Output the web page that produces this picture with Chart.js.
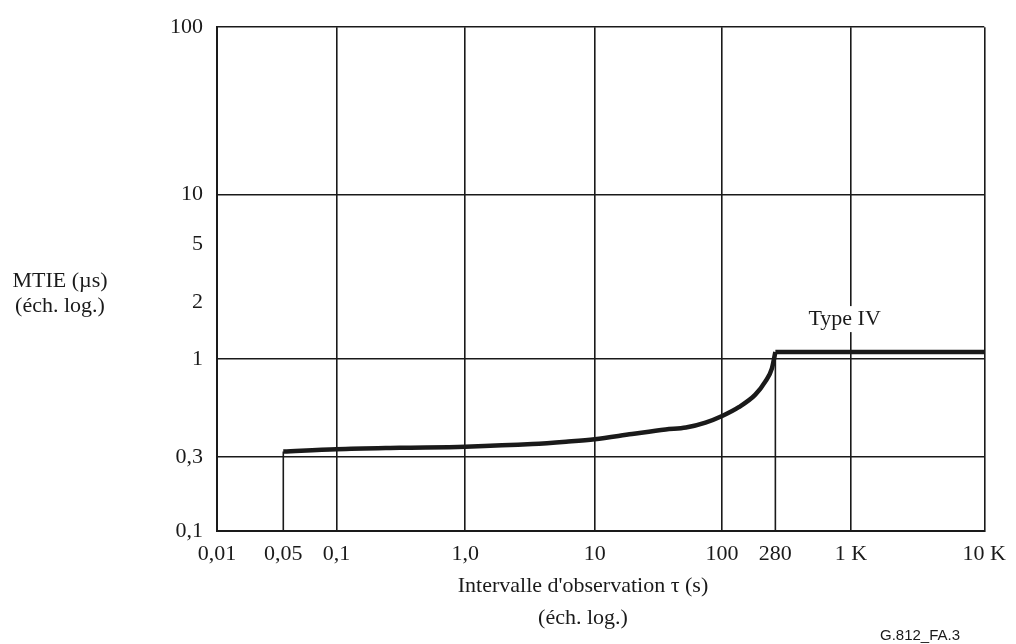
<!DOCTYPE html>
<html>
<head>
<meta charset="utf-8">
<script src="https://cdn.jsdelivr.net/npm/chart.js@4.4.1/dist/chart.umd.min.js"></script>
<style>
  html, body { margin: 0; padding: 0; background: #fff; }
  #wrap { width: 1016px; height: 644px; }
</style>
</head>
<body>
<div id="wrap"><canvas id="myChart" width="1016" height="644"></canvas></div>
<script>
// observation interval tau (s) and MTIE (us)
var tauCurve = [0.05, 0.1, 0.31, 1, 3.3, 6, 10, 19.6, 36, 52, 74, 100, 138, 190, 231, 262, 280];
var mtieCurve = [0.320, 0.329, 0.335, 0.340, 0.351, 0.361, 0.372, 0.397, 0.420, 0.430, 0.457, 0.496, 0.553, 0.645, 0.759, 0.892, 1.09];
var tauFlat = [280, 10000];
var mtieFlat = [1.09, 1.09];

// thin drop lines at 0,05 s and 280 s
var tauDrop1 = [0.05, 0.05];
var mtieDrop1 = [0.1, 0.320];
var tauDrop2 = [280, 280];
var mtieDrop2 = [0.1, 1.09];

// tick values + labels
var xTickValues = [0.01, 0.05, 0.1, 1, 10, 100, 280, 1000, 10000];
var xTickLabels = ['0,01', '0,05', '0,1', '1,0', '10', '100', '280', '1 K', '10 K'];
var yTickValues = [0.1, 0.3, 1, 2, 5, 10, 100];
var yTickLabels = ['0,1', '0,3', '1', '2', '5', '10', '100'];
var noGridX = [0.05, 280];
var noGridY = [2, 5];

var curveLabel = 'Type IV';
var curveLabelAt = [900, 1.63];

// the printed figure is not exactly logarithmic, so place the ticks where they are drawn
var xAnchorPos = [0, 0.0864, 0.1557, 0.3235, 0.4923, 0.6583, 0.7277, 0.8261, 1];
var yAnchorPos = [0, 0.1473, 0.3413, 0.4538, 0.5688, 0.668, 1];

function toPoints(xs, ys) {
    var pts = [];
    for (var i = 0; i < xs.length; i++) {
        pts.push({x: xs[i], y: ys[i]});
    }
    return pts;
}

class AnchoredLogScale extends Chart.LogarithmicScale {
    buildTicks() {
        var vals = this.options.tickValues;
        this.min = vals[0];
        this.max = vals[vals.length - 1];
        return vals.map(function (v) { return {value: v}; });
    }
    getPixelForValue(value) {
        var vals = this.options.tickValues;
        var pos = this.options.anchorPos;
        var lv = Math.log10(value);
        var i = 0;
        while (i < vals.length - 2 && lv > Math.log10(vals[i + 1])) i++;
        var l0 = Math.log10(vals[i]), l1 = Math.log10(vals[i + 1]);
        var f = pos[i] + (lv - l0) / (l1 - l0) * (pos[i + 1] - pos[i]);
        return this.getPixelForDecimal(f);
    }
    getValueForPixel(pixel) {
        var vals = this.options.tickValues;
        var pos = this.options.anchorPos;
        var f = this.getDecimalForPixel(pixel);
        var i = 0;
        while (i < pos.length - 2 && f > pos[i + 1]) i++;
        var l0 = Math.log10(vals[i]), l1 = Math.log10(vals[i + 1]);
        return Math.pow(10, l0 + (f - pos[i]) / (pos[i + 1] - pos[i]) * (l1 - l0));
    }
}
AnchoredLogScale.id = 'anchoredLog';
AnchoredLogScale.defaults = Chart.LogarithmicScale.defaults;
Chart.register(AnchoredLogScale);

var serif = "'Liberation Serif', 'Times New Roman', serif";
var ink = '#1a1a1a';

var textPlugin = {
    id: 'figureText',
    afterDraw: function (chart) {
        var ctx = chart.ctx;
        var xs = chart.scales.x, ys = chart.scales.y;
        ctx.save();
        ctx.fillStyle = ink;
        ctx.font = '22px ' + serif;
        ctx.textAlign = 'center';
        ctx.textBaseline = 'middle';
        // y axis title
        ctx.fillText('MTIE (\u00b5s)', 60, 281);
        ctx.fillText('(\u00e9ch. log.)', 60, 306);
        // x axis title
        ctx.fillText("Intervalle d'observation \u03c4 (s)", 583, 586);
        ctx.fillText('(\u00e9ch. log.)', 583, 618);
        // curve label with white box behind it
        var lx = xs.getPixelForValue(curveLabelAt[0]);
        var ly = ys.getPixelForValue(curveLabelAt[1]);
        var w = ctx.measureText(curveLabel).width;
        ctx.fillStyle = '#fff';
        ctx.fillRect(lx - w / 2 - 3, ly - 13, w + 6, 26);
        ctx.fillStyle = ink;
        ctx.fillText(curveLabel, lx, ly);
        // figure id
        ctx.font = "15px 'Liberation Sans', Arial, sans-serif";
        ctx.fillText('G.812_FA.3', 920, 636);
        ctx.restore();
    }
};

var ctx = document.getElementById('myChart').getContext('2d');
var myChart = new Chart(ctx, {
    type: 'line',
    data: {
        datasets: [
            {
                label: 'Type IV',
                data: toPoints(tauCurve, mtieCurve),
                borderColor: ink,
                borderWidth: 4.5,
                pointRadius: 0,
                cubicInterpolationMode: 'monotone',
                borderCapStyle: 'butt',
                fill: false
            },
            {
                label: 'Type IV flat',
                data: toPoints(tauFlat, mtieFlat),
                borderColor: ink,
                borderWidth: 4.5,
                pointRadius: 0,
                fill: false
            },
            {
                label: 'drop 0.05',
                data: toPoints(tauDrop1, mtieDrop1),
                borderColor: ink,
                borderWidth: 1.6,
                pointRadius: 0,
                fill: false
            },
            {
                label: 'drop 280',
                data: toPoints(tauDrop2, mtieDrop2),
                borderColor: ink,
                borderWidth: 1.6,
                pointRadius: 0,
                fill: false
            }
        ]
    },
    options: {
        responsive: false,
        animation: false,
        devicePixelRatio: 1,
        layout: {
            padding: {left: 0, right: 30, top: 22, bottom: 0}
        },
        plugins: {
            legend: {display: false},
            tooltip: {enabled: false}
        },
        scales: {
            x: {
                type: 'anchoredLog',
                tickValues: xTickValues,
                anchorPos: xAnchorPos,
                min: 0.01,
                max: 10000,
                afterFit: function (scale) { scale.height = 113; },
                border: {display: true, color: ink, width: 2},
                grid: {
                    drawTicks: false,
                    lineWidth: 1.6,
                    color: function (c) {
                        if (c.tick && noGridX.indexOf(c.tick.value) >= 0) return 'rgba(0,0,0,0)';
                        return ink;
                    }
                },
                ticks: {
                    autoSkip: false,
                    maxRotation: 0,
                    padding: 10,
                    color: ink,
                    font: {family: serif, size: 22},
                    callback: function (value, index) { return xTickLabels[index]; }
                }
            },
            y: {
                type: 'anchoredLog',
                tickValues: yTickValues,
                anchorPos: yAnchorPos,
                min: 0.1,
                max: 100,
                afterFit: function (scale) { scale.width = 217; },
                border: {display: true, color: ink, width: 2},
                grid: {
                    drawTicks: false,
                    lineWidth: 1.6,
                    color: function (c) {
                        if (c.tick && noGridY.indexOf(c.tick.value) >= 0) return 'rgba(0,0,0,0)';
                        return ink;
                    }
                },
                ticks: {
                    autoSkip: false,
                    padding: 14,
                    color: ink,
                    font: {family: serif, size: 22},
                    callback: function (value, index) { return yTickLabels[index]; }
                }
            }
        }
    },
    plugins: [textPlugin]
});
</script>
</body>
</html>
